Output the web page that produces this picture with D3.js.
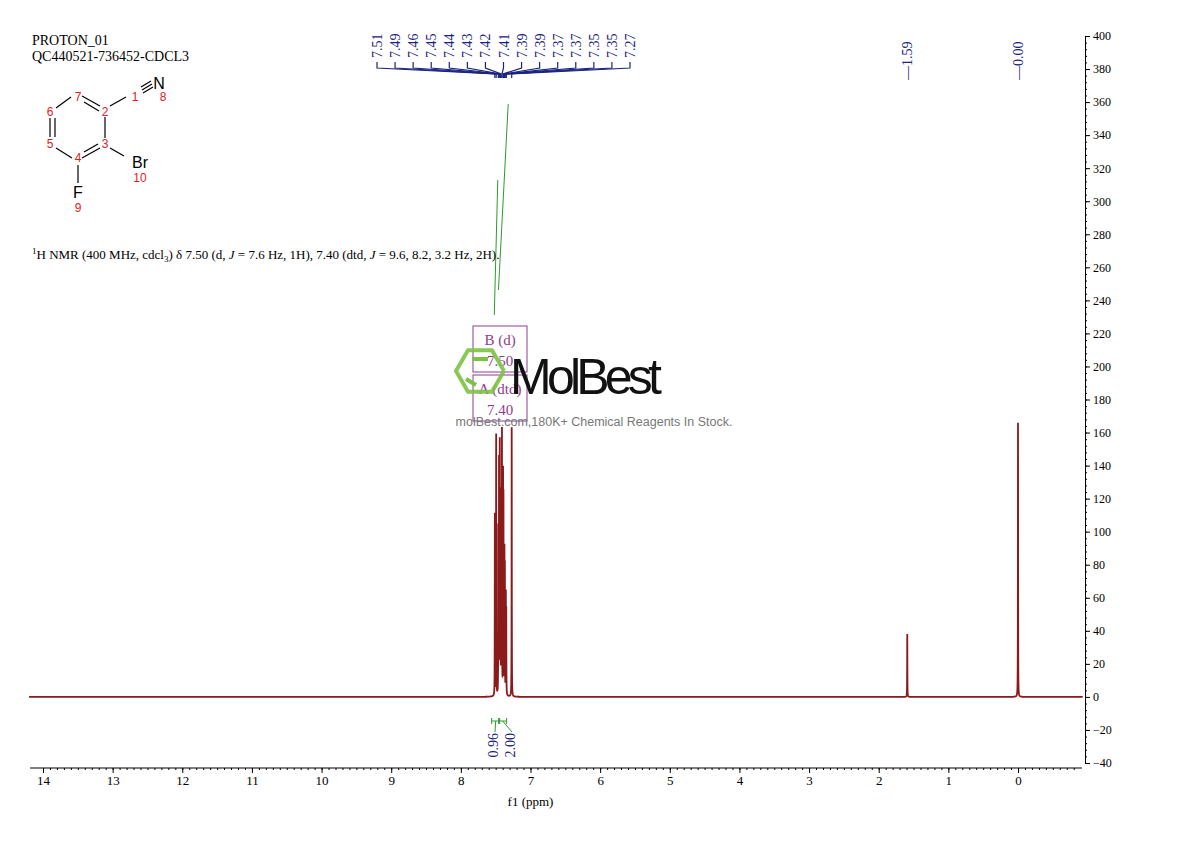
<!DOCTYPE html><html><head><meta charset="utf-8">
<script src="https://cdn.jsdelivr.net/npm/d3@7"></script>
<style>body{margin:0;background:#fff}svg{font-family:"Liberation Serif","DejaVu Serif",serif}</style></head><body>
<svg id="c" width="1190" height="841"></svg>
<script>
const peakPpm=[7.512,7.493,7.462,7.452,7.441,7.432,7.421,7.410,7.394,7.388,7.374,7.368,7.354,7.348,7.270,1.59,0.00];
const peakHeight=[110,158,100,140,150,95,120,158,130,115,85,75,60,50,163,38,166];
const topLabels=["7.51","7.49","7.46","7.45","7.44","7.43","7.42","7.41","7.39","7.39","7.37","7.37","7.35","7.35","7.27"];
const singleLabels=[{ppm:1.59,t:"1.59"},{ppm:0.00,t:"0.00"}];
const xTicks=[14,13,12,11,10,9,8,7,6,5,4,3,2,1,0];
const yTicks=[-40,-20,0,20,40,60,80,100,120,140,160,180,200,220,240,260,280,300,320,340,360,380,400];
const integrals=[{ppm:7.50,v:"0.96",lx:493},{ppm:7.40,v:"2.00",lx:510}];

const svg=d3.select("#c");
const x=d3.scaleLinear().domain([14,0]).range([43,1018]);
const y=d3.scaleLinear().domain([-40,400]).range([763,36]);
const red="#8b1a1a", blue="#1a237e";

const xs=d3.range(14.2,-0.93,-0.0005);
const w=0.0015;
const pts=xs.map(p=>{let s=0;peakPpm.forEach((c,i)=>{const d=(p-c)/w;s+=peakHeight[i]/(1+d*d)});return [p,s];});
svg.append("path").attr("d",d3.line().x(d=>x(d[0])).y(d=>y(d[1]))(pts)).attr("fill","none").attr("stroke",red).attr("stroke-width",1.8);

const xa=svg.append("g").attr("transform","translate(0,768)").call(d3.axisBottom(x).tickValues(xTicks).tickSize(5).tickFormat(d3.format("d")));
xa.select(".domain").attr("d","M30,0H1082");
xa.selectAll("text").attr("font-size",13).attr("font-family","Liberation Serif");
svg.append("g").attr("transform","translate(0,768)").call(d3.axisBottom(x).tickValues(d3.range(14,-0.9,-0.1)).tickSize(2).tickFormat("")).select(".domain").remove();
svg.append("text").attr("x",x(7)).attr("y",806).attr("text-anchor","middle").attr("font-size",13).text("f1 (ppm)");

const ya=svg.append("g").attr("transform","translate(1085,0)").call(d3.axisRight(y).tickValues(yTicks).tickSize(5).tickFormat(d3.format("d")));
ya.selectAll("text").attr("font-size",12).attr("font-family","Liberation Serif");
svg.append("g").attr("transform","translate(1085,0)").call(d3.axisRight(y).tickValues(d3.range(-40,401,4)).tickSize(2).tickFormat("")).select(".domain").remove();

const lx=d3.scaleLinear().domain([0,topLabels.length-1]).range([377,630]);
const g=svg.append("g");
topLabels.forEach((t,i)=>{
  const X=lx(i), px=x(peakPpm[i]);
  g.append("text").attr("transform",`translate(${X+5},58) rotate(-90)`).attr("font-size",14).attr("fill",blue).text(t);
  g.append("path").attr("d",`M${X},62V68L${px},74V78`).attr("fill","none").attr("stroke",blue).attr("stroke-width",1.2);
});
singleLabels.forEach(s=>{
  const X=x(s.ppm);
  g.append("text").attr("transform",`translate(${X+5},80) rotate(-90)`).attr("font-size",14).attr("fill",blue).text("—"+s.t);
});

svg.append("path").attr("d",`M${x(7.52)},315 L${x(7.47)},180`).attr("stroke","#2e9a2e").attr("fill","none");
svg.append("path").attr("d",`M${x(7.46)},290 L${x(7.32)},104`).attr("stroke","#2e9a2e").attr("fill","none");
integrals.forEach(d=>{
  const X=x(d.ppm);
  svg.append("path").attr("d",`M${X-4},721H${X+4}M${X-4},718V724M${X+4},718V724M${X},721L${d.lx+2},732`).attr("stroke","#2e9a2e").attr("fill","none");
  svg.append("text").attr("transform",`translate(${d.lx+5},733) rotate(-90)`).attr("text-anchor","end").attr("font-size",14).attr("fill",blue).text(d.v);
});

const pur="#8e3d8e";
[[326,"B (d)","7.50"],[375,"A (dtd)","7.40"]].forEach(b=>{
  svg.append("rect").attr("x",473).attr("y",b[0]).attr("width",54).attr("height",46).attr("fill","none").attr("stroke",pur);
  svg.append("text").attr("x",500).attr("y",b[0]+19).attr("text-anchor","middle").attr("font-size",15).attr("fill",pur).text(b[1]);
  svg.append("text").attr("x",500).attr("y",b[0]+40).attr("text-anchor","middle").attr("font-size",15).attr("fill",pur).text(b[2]);
});

svg.append("text").attr("x",32).attr("y",45).attr("font-size",14).text("PROTON_01");
svg.append("text").attr("x",32).attr("y",61).attr("font-size",14).text("QC440521-736452-CDCL3");
const desc=svg.append("text").attr("x",32).attr("y",259).attr("font-size",13);
desc.append("tspan").attr("font-size",9).attr("dy",-5).text("1");
desc.append("tspan").attr("dy",5).text("H NMR (400 MHz, cdcl");
desc.append("tspan").attr("font-size",9).attr("dy",3).text("3");
desc.append("tspan").attr("dy",-3).text(") δ 7.50 (d, ");
desc.append("tspan").attr("font-style","italic").text("J");
desc.append("tspan").text(" = 7.6 Hz, 1H), 7.40 (dtd, ");
desc.append("tspan").attr("font-style","italic").text("J");
desc.append("tspan").text(" = 9.6, 8.2, 3.2 Hz, 2H).");

const m=svg.append("g").attr("stroke","#000").attr("stroke-width",1.2);
const ln=(a,b,c,d)=>m.append("line").attr("x1",a).attr("y1",b).attr("x2",c).attr("y2",d);
ln(82,96,100,106);ln(84,102,99,111);ln(105,117,105,138);ln(100,148,82,158);ln(84,152,98,144);
ln(72,158,56,148);ln(50,137,50,118);ln(55,118,55,137);ln(56,108,71,97);
ln(110,106,126,97);ln(142,90,152,84);ln(141,87,151,81);ln(143,93,153,87);
ln(110,148,124,156);ln(78,165,78,183);
const tx=(X,Y,t,c,s)=>svg.append("text").attr("x",X).attr("y",Y).attr("font-family","Liberation Sans, Arial").attr("font-size",s).attr("fill",c).attr("text-anchor","middle").text(t);
tx(159,89,"N","#000",16);tx(140,168,"Br","#000",16);tx(78,198,"F","#000",16);
tx(78,101,"7","#d22",12);tx(105,116,"2","#d22",12);tx(105,148,"3","#d22",12);tx(78,162,"4","#d22",12);
tx(50,148,"5","#d22",12);tx(50,116,"6","#d22",12);tx(135,101,"1","#d22",12);tx(163,101,"8","#d22",12);tx(140,182,"10","#d22",12);tx(78,212,"9","#d22",12);

const hx=480,hy=371,r=24;
svg.append("path").attr("d",d3.range(7).map((i,k)=>(k?"L":"M")+(hx+r*Math.cos(Math.PI/3*i))+","+(hy+r*Math.sin(Math.PI/3*i))).join("")).attr("fill","none").attr("stroke","#7dc242").attr("stroke-width",4).attr("opacity",0.9);
svg.append("path").attr("d",`M${hx-8},${hy-12}H${hx+8}M${hx-14},${hy+8}L${hx-4},${hy+14}`).attr("stroke","#7dc242").attr("stroke-width",4);
svg.append("text").attr("x",510).attr("y",394).attr("font-family","Liberation Sans Narrow, Liberation Sans").attr("font-size",50).attr("textLength",152).attr("fill","#111").text("MolBest");
svg.append("text").attr("x",594).attr("y",426).attr("text-anchor","middle").attr("font-family","Liberation Sans").attr("font-size",12.5).attr("fill","#777").text("molBest.com,180K+ Chemical Reagents In Stock.");
</script></body></html>
